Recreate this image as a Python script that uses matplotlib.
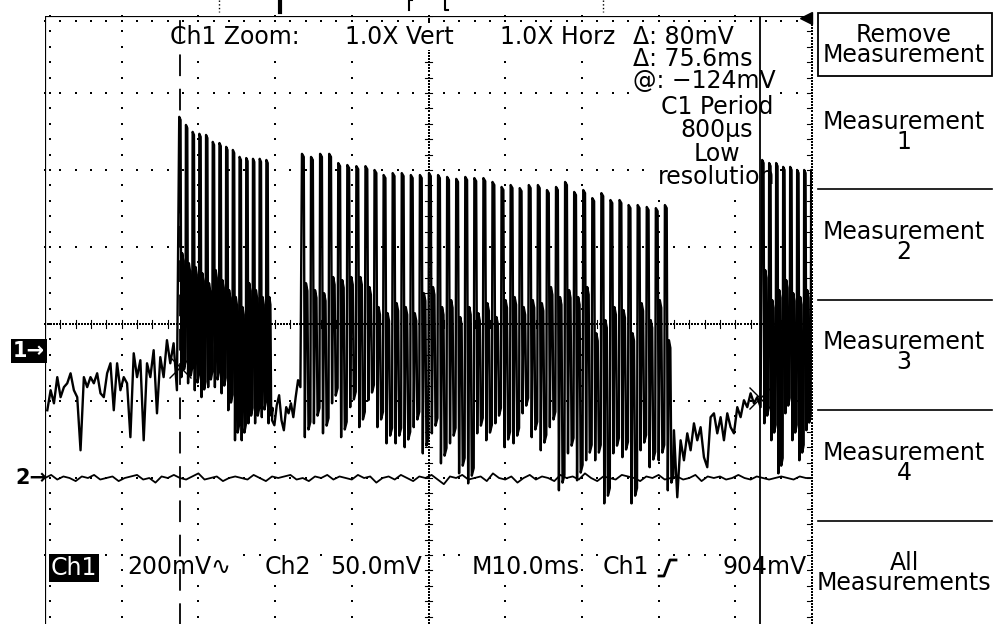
import matplotlib.pyplot as plt
import numpy as np
from matplotlib.lines import Line2D
from matplotlib.patches import Rectangle

W, H = 997, 624

# scope settings
TIME_DIV = 10.0      # ms/div
CH1_SCALE = 200.0    # mV/div
CH2_SCALE = 50.0     # mV/div
CH1_POS = -0.34      # div, ground marker "1->"
CH2_POS = -2.0       # div, ground marker "2->"

# paired cursors (ms, mV on ch1)
cursor_t = [17.6, 93.2]
cursor_v = [-44, -124]

# ch1 noise before / between bursts (mV)
pre_noise = [-156, -104, -138, -70, -122, -96, -86, -60, -104, -122,
             -260, -70, -96, -70, -86, -60, -112, -122, -60, -34,
             -156, -34, -104, -70, -86, -226, -8, -70, -26, -234,
             -34, -70, 0, -164, -18, -70, 26, -34, 18, -104]
gap1_noise = [-182, -195, -143, -117, -182, -208, -148, -164, -138, -174,
              -122, -78, -96]
gap2_noise = [-208, -382, -234, -286, -216, -260, -190, -234, -200, -278,
              -304, -174, -164, -216, -174, -234, -164, -200, -216, -148,
              -174, -130, -148, -112, -138, -122, -148]
pre_span = (0.3, 17.2)
gap1_span = (29.6, 33.3)
gap2_span = (82.0, 93.3)

# bursts: start (ms), period (ms), peak / shelf / trough per cycle (mV)
burst_start = [17.5, 33.5, 93.5]
burst_period = [0.874, 1.183, 0.913]

b1_peak = [606, 585, 567, 562, 559, 541, 538, 528, 520, 502, 499, 497, 497, 494]
b1_shelf = [252, 226, 216, 200, 174, 208, 182, 156, 138, 112, 174, 156, 138, 138]
b1_trough = [-70, -86, -104, -122, -96, -96, -112, -156, -234, -234,
             -190, -190, -174, -190]

b2_peak = [510, 502, 510, 510, 486, 481, 478, 478, 468, 455,
           460, 460, 455, 455, 460, 455, 450, 445, 450, 447,
           447, 437, 424, 429, 421, 429, 429, 416, 424, 437,
           411, 416, 395, 408, 390, 390, 377, 377, 372, 369, 377]
b2_shelf = [174, 156, 148, 190, 182, 190, 190, 164, 112, 96,
            122, 112, 96, 148, 164, 112, 130, 86, 112, 96,
            122, 86, 130, 138, 112, 130, 122, 164, 138, 156,
            138, 164, 44, 78, 112, 104, 44, 122, 78, 130, 26]
b2_trough = [-226, -190, -216, -138, -226, -148, -200, -130, -200, -242,
             -242, -252, -200, -268, -216, -294, -242, -320, -346, -216,
             -234, -190, -252, -242, -164, -226, -260, -200, -364, -268,
             -338, -286, -286, -398, -268, -278, -398, -260, -304, -286, -364]

b3_peak = [494, 486, 486, 476, 476, 468, 468, 468]
b3_shelf = [208, 130, 156, 182, 148, 138, 156, 112]
b3_trough = [-190, -234, -320, -164, -234, -286, -208, -252]

# ch2 (mV), one sample every 0.8 ms
ch2 = [0, 2, -1, 1, 0, -2, 1, 0, 2, -1, 0, 1, -2, 0, 1, 2, -1, 0, -3, 1,
       0, 2, 0, -1, 1, 3, -1, 0, 1, -2, 0, 1, 0, -1, 2, 0, -2, 1, 0, 1,
       2, -1, 0, -2, 1, 0, 2, -1, 1, 0, -1, 2, 0, 1, -3, 0, 1, -1, 2, 0,
       -2, 1, 0, 2, -1, -4, 1, 0, 2, -1, 0, 1, -2, 3, 0, -1, 1, -3, 0, 2,
       -1, 1, 0, -2, 2, 0, 1, -1, 3, 0, -2, 1, 0, -1, 2, 1, 0, -2, 1, 0,
       2, -1, 0, 1, -1, 0, 2, -2, 1, 0, 1, -1, 0, 2, 0, -1, 1, 0, -1, 0,
       1, 0, -1, 1, 0, 0]


def burst(t0, period, peaks, shelves, troughs):
    ts, vs = [], []
    for i, (pk, sh, tr) in enumerate(zip(peaks, shelves, troughs)):
        s = t0 + i * period
        ts += [s, s + 0.2 * period, s + 0.32 * period, s + 0.44 * period,
               s + 0.6 * period, s + 0.72 * period, s + 0.93 * period]
        vs += [pk, pk - 8, tr, sh, sh - 20, tr + 20, tr + 40]
    return ts, vs


t1, v1 = [], []
t1 += list(np.linspace(*pre_span, len(pre_noise)))
v1 += pre_noise
for k, (pk, sh, tr) in enumerate([(b1_peak, b1_shelf, b1_trough),
                                  (b2_peak, b2_shelf, b2_trough),
                                  (b3_peak, b3_shelf, b3_trough)]):
    ts, vs = burst(burst_start[k], burst_period[k], pk, sh, tr)
    t1 += ts
    v1 += vs
    if k == 0:
        t1 += list(np.linspace(*gap1_span, len(gap1_noise)))
        v1 += gap1_noise
    if k == 1:
        t1 += list(np.linspace(*gap2_span, len(gap2_noise)))
        v1 += gap2_noise

t2 = np.linspace(0, 100, len(ch2))

fig = plt.figure(figsize=(W / 100, H / 100), dpi=100)
fig.patch.set_facecolor('white')
rect = [45 / W, (H - 632) / H, 767 / W, 616 / H]

# graticule, in divisions
ax = fig.add_axes(rect)
ax.set_xlim(0, 10)
ax.set_ylim(-4, 4)
ax.axis('off')
xs = np.arange(0, 10.001, 0.2)
ys = np.arange(-4, 4.001, 0.2)
dot = dict(marker='s', s=1.6, linewidths=0, color='k', clip_on=False)
for xv in range(1, 10):
    if xv != 5:
        ax.scatter(np.full(ys.size, xv), ys, **dot)
for yv in range(-3, 4):
    if yv != 0:
        ax.scatter(xs, np.full(xs.size, yv), **dot)
dense = np.arange(0, 10.001, 0.04)
ax.scatter(dense, np.zeros(dense.size), **dot)
dense_y = np.arange(-4, 4.001, 0.04)
ax.scatter(np.full(dense_y.size, 5), dense_y, **dot)
ax.scatter(np.full(dense_y.size, 10), dense_y, **dot)
for xv in xs:
    ax.plot([xv, xv], [-0.05, 0.05], color='k', lw=0.8)
for yv in ys:
    ax.plot([4.95, 5.05], [yv, yv], color='k', lw=0.8)
    ax.plot([9.93, 9.97], [yv, yv], color='k', lw=0.8)
ax.scatter(np.full(ys.size, 0.06), ys, **dot)
ax.scatter(xs, np.full(xs.size, 3.94), **dot)
ax.plot([0, 0], [-4, 4], color='k', lw=1.6)
ax.plot([0, 9.95], [4, 4], color='k', lw=1.6)


def px(x, y):
    return x / W, 1 - y / H


# screen readouts
font = dict(fontsize=17, family='DejaVu Sans', va='center', color='black',
            bbox=dict(boxstyle='square,pad=0.05', fc='white', ec='none'))
top_texts = [("Ch1 Zoom:", 170, 37, 'left'), ("1.0X Vert", 345, 37, 'left'),
             ("1.0X Horz", 500, 37, 'left')]
for s, x, y, ha in top_texts:
    fig.text(*px(x, y), s, ha=ha, **font)
fig.text(*px(633, 59), "Δ: 80mV\nΔ: 75.6ms\n@: −124mV", ha='left',
         linespacing=0.92, **font)
fig.text(*px(717, 142), "C1 Period\n800µs\nLow\nresolution", ha='center',
         linespacing=0.97, multialignment='center', **font)

bottom_texts = [("200mV∿", 127), ("Ch2", 265), ("50.0mV", 330),
                ("M10.0ms", 472), ("Ch1", 603), ("904mV", 722)]
for s, x in bottom_texts:
    fig.text(*px(x, 567), s, ha='left', **font)
fig.text(*px(51, 568), "Ch1", ha='left', va='center', fontsize=17, color='white',
         bbox=dict(boxstyle='square,pad=0.08', fc='black', ec='none'))
# trigger slope icon
fig.add_artist(Line2D([px(x, 0)[0] for x in (659, 664, 670, 676)],
                      [px(0, y)[1] for y in (576, 576, 560, 560)],
                      color='k', lw=2))

# channel markers
fig.text(*px(13, 351), "1→", ha='left', va='center', fontsize=15, color='white',
         fontweight='bold', bbox=dict(boxstyle='square,pad=0.1', fc='black', ec='none'))
fig.text(*px(15, 478), "2→", ha='left', va='center', fontsize=15, color='black',
         fontweight='bold')

# record bar marks above the screen
for x0, lw, ls in [(219, 1, ':'), (280, 3, '-'), (603, 1, ':')]:
    fig.add_artist(Line2D([x0 / W] * 2, [1, 1 - 12 / H], color='k', lw=lw, ls=ls))
fig.add_artist(Line2D([px(x, 0)[0] for x in (412, 409, 409)],
                      [px(0, y)[1] for y in (0, 0, 10)], color='k', lw=1.5))
fig.add_artist(Line2D([px(x, 0)[0] for x in (445, 445, 448)],
                      [px(0, y)[1] for y in (0, 10, 10)], color='k', lw=1.5))
fig.add_artist(Line2D([px(806, 0)[0]], [px(0, 18)[1]], marker='<', ms=9,
                      color='k', lw=0))

# side menu
menu = dict(fontsize=17, ha='center', va='center', color='black',
            linespacing=0.78)
fig.add_artist(Rectangle(px(818, 76), 174 / W, 63 / H, fill=False, ec='k',
                         lw=1.3, transform=fig.transFigure))
menu_items = [("Remove\nMeasurement", 45), ("Measurement\n1", 132),
              ("Measurement\n2", 242), ("Measurement\n3", 352),
              ("Measurement\n4", 463), ("All\nMeasurements", 573)]
for s, y in menu_items:
    fig.text(*px(904, y), s, **menu)
for y in [189, 300, 410, 521]:
    fig.add_artist(Line2D([818 / W, 992 / W], [1 - y / H] * 2, color='k', lw=1.2))

# waveforms on top
ax1 = fig.add_axes(rect)
ax1.set_xlim(0, 10 * TIME_DIV)
ax1.set_ylim((-4 - CH1_POS) * CH1_SCALE, (4 - CH1_POS) * CH1_SCALE)
ax1.axis('off')
ax1.set_zorder(5)
ax1.patch.set_alpha(0)
ax1.plot(t1, v1, color='k', lw=1.7)
ax1.axvline(cursor_t[0], color='k', lw=1.3, dashes=(12, 7))
ax1.axvline(cursor_t[1], color='k', lw=1.3)
ax1.plot(cursor_t, cursor_v, 'x', color='k', ms=16, mew=1.0)

ax2 = fig.add_axes(rect)
ax2.set_xlim(0, 10 * TIME_DIV)
ax2.set_ylim((-4 - CH2_POS) * CH2_SCALE, (4 - CH2_POS) * CH2_SCALE)
ax2.axis('off')
ax2.set_zorder(6)
ax2.patch.set_alpha(0)
ax2.plot(t2, ch2, color='k', lw=1.3)

fig.savefig('out.png', dpi=100)
